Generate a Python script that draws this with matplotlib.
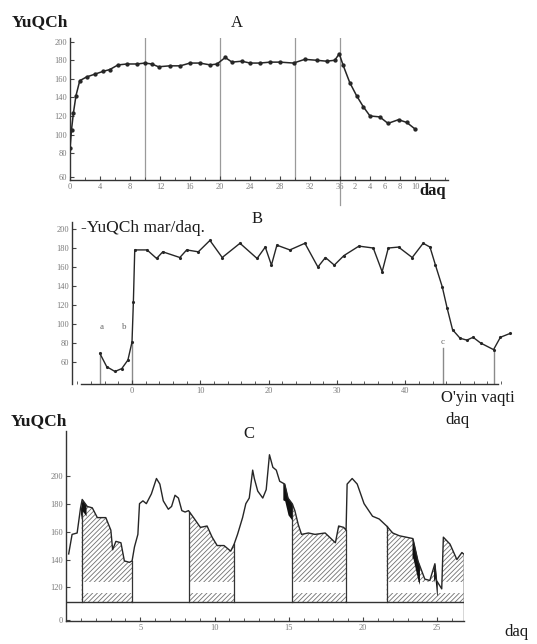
import numpy as np
import matplotlib.pyplot as plt
from matplotlib.ticker import MultipleLocator

plt.rcParams['font.family'] = ['Liberation Serif', 'DejaVu Serif']
plt.rcParams['hatch.linewidth'] = 0.6
plt.rcParams['hatch.color'] = '#707070'

# ---- data -------------------------------------------------------------
# A: heart rate during a steady load (0..36 min) and 10 min of recovery
a_time = [0, 0.2, 0.45, 0.8, 1.3, 2.2, 3.3, 4.4, 5.3, 6.4, 7.6, 8.9, 10, 10.9,
          11.8, 13.3, 14.7, 16, 17.3, 18.7, 19.6, 20.7, 21.6, 22.9, 24, 25.3,
          26.7, 28, 29.8, 31.3, 32.9, 34.2, 35.3, 35.9, 36.4, 37.3, 38.2, 39.1,
          40, 41.3, 42.4, 43.8, 44.9, 46]
a_hr = [85, 105, 123, 142, 158, 162, 165, 168, 170, 175, 176, 176, 177, 176,
        173, 174, 174, 177, 177, 175, 176, 183, 178, 179, 177, 177,
        178, 178, 177, 181, 180, 179, 180, 187, 175, 156, 142, 130,
        120, 119, 112, 116, 113, 106]
a_marks = [10, 20, 30, 36]
a_ticks = [0, 4, 8, 12, 16, 20, 24, 28, 32, 36, 38, 40, 42, 44, 46]
a_ticklabels = ['0', '4', '8', '12', '16', '20', '24', '28', '32', '36',
                '2', '4', '6', '8', '10']
a_yticks = [54.5, 80, 100, 120, 140, 160, 180, 200]
a_yticklabels = ['60', '80', '100', '120', '140', '160', '180', '200']

# B: heart rate during a game
b_time = [-4.7, -3.7, -2.5, -1.5, -0.6, 0, 0.2, 0.4, 2.2, 3.6, 4.5, 7.0, 8.0,
          9.7, 11.4, 13.2, 15.8, 18.3, 19.5, 20.4, 21.2, 23.1, 25.3, 27.2,
          28.3, 29.6, 31.0, 33.2, 35.3, 36.6, 37.5, 39.0, 41.0, 42.6, 43.6,
          44.4, 45.4, 46.1, 46.9, 48.0, 49.0, 49.9, 51.0, 52.9, 53.9, 55.3]
b_hr = [69, 55, 50, 53, 62, 81, 123, 178, 178, 169, 176, 170, 178,
        176, 188, 170, 185, 169, 181, 162, 183, 178, 185, 160,
        170, 162, 172, 182, 180, 155, 180, 181, 170, 185, 181,
        162, 139, 117, 94, 85, 83, 86, 80, 73, 86, 90]
b_marks = [-4.7, 0, 45.5, 52.9]
b_mark_labels = ['a', 'b', 'c', '']
b_ticks = [0, 10, 20, 30, 40]
b_yticks = [60, 80, 100, 120, 140, 160, 180, 200]

# C: heart rate with play / rest periods
c_time = [0.18, 0.41, 0.75, 0.98, 1.09, 1.43, 1.77, 2.11, 2.68, 3.02, 3.14,
          3.36, 3.70, 3.93, 4.27, 4.45, 4.61, 4.84, 4.95, 5.18, 5.41, 5.75,
          6.09, 6.32, 6.55, 6.89, 7.11, 7.34, 7.57, 7.80, 8.02, 8.25, 8.59,
          9.05, 9.50, 9.84, 10.18, 10.64, 11.09, 11.32, 11.55, 11.89, 12.11,
          12.34, 12.57, 12.68, 12.91, 13.25, 13.48, 13.70, 13.93, 14.16, 14.39,
          14.73, 14.95, 15.23, 15.41, 15.64, 15.86, 16.32, 16.77, 17.45, 18.14,
          18.36, 18.70, 18.86, 18.93, 19.27, 19.61, 20.07, 20.64, 21.09, 21.59,
          22.0, 22.45, 22.91, 23.36, 23.70, 24.16, 24.50, 24.84, 24.95, 25.30,
          25.41, 25.86, 26.32, 26.66, 26.77]
c_hr = [144, 158, 159, 177, 183, 178, 177, 170, 170, 161, 147,
        153, 152, 139, 138, 139, 149, 158, 180, 182, 180, 187,
        198, 194, 182, 176, 178, 186, 184, 175, 174, 175, 170,
        163, 164, 156, 150, 150, 146, 151, 158, 170, 180,
        184, 204, 198, 189, 184, 190, 215, 206, 204, 196,
        194, 184, 180, 175, 165, 158, 159, 158, 159, 152,
        164, 163, 161, 194, 198, 194, 180, 171, 169, 164,
        159, 157, 156, 155, 139, 126, 125, 137, 125, 119,
        156, 151, 140, 145, 144]
c_play = [(1.05, 4.45), (8.3, 11.32), (15.23, 18.86), (21.59, 26.77)]
c_dark = [(0.98, 1.35, 8), (14.6, 15.2, 12), (23.3, 23.8, 14), (24.75, 25.0, 10)]
c_ticks = [5, 10, 15, 20, 25]
c_yticks = [96.5, 120, 140, 160, 180, 200]
c_yticklabels = ['0', '120', '140', '160', '180', '200']
c_base = 109.3
c_band = (116.4, 123.6)

# ---- layout helpers --------------------------------------------------
W, H = 537, 644
INK = '#262626'


def box(x0, y0, x1, y1):
    return [x0 / W, 1 - y1 / H, (x1 - x0) / W, (y1 - y0) / H]


def label(fig, x, y, s, size=12, weight='normal'):
    fig.text(x / W, 1 - y / H, s, ha='center', va='center', fontsize=size,
             fontweight=weight, color='#1a1a1a')


def style(ax):
    for side in ('top', 'right'):
        ax.spines[side].set_visible(False)
    for side in ('left', 'bottom'):
        ax.spines[side].set_color('#333333')
        ax.spines[side].set_linewidth(1.0)
    ax.tick_params(which='both', direction='in', color='#444444', labelcolor='#7a7a7a',
                   labelsize=6, pad=2)
    ax.tick_params(which='major', length=3)
    ax.tick_params(which='minor', length=2)
    ax.set_facecolor('none')


fig = plt.figure(figsize=(W / 100, H / 100), dpi=100)

# ---- A -----------------------------------------------------------------
axA = fig.add_axes(box(70, 38, 448, 180))
style(axA)
axA.set_xlim(0, 50.4)
axA.set_ylim(51, 204)
for m in a_marks:
    axA.axvline(m, color='#9a9a9a', lw=0.9, zorder=1)
axA.plot([36, 36], [51, 24], color='#9a9a9a', lw=0.9, clip_on=False)
axA.plot(a_time, a_hr, color=INK, lw=1.1, marker='o', ms=2.1, zorder=3)
axA.set_xticks(a_ticks)
axA.set_xticklabels(a_ticklabels)
axA.xaxis.set_minor_locator(MultipleLocator(2))
axA.set_yticks(a_yticks)
axA.set_yticklabels(a_yticklabels)
label(fig, 40, 22, 'YuQCh', 12.5, 'bold')
label(fig, 237, 23, 'A', 12)
label(fig, 433, 191, 'daq', 12, 'bold')

# ---- B -----------------------------------------------------------------
axB = fig.add_axes(box(72, 222, 512, 384))
style(axB)
axB.set_xlim(-8.78, 55.6)
axB.set_ylim(36.8, 207.4)
axB.spines['bottom'].set_bounds(-7.5, 53.5)
for m, s in zip(b_marks, b_mark_labels):
    top = np.interp(m, b_time, b_hr)
    if s == 'c':
        top = 75
    axB.plot([m, m], [36.8, top], color='#8a8a8a', lw=1.0, zorder=1)
    if s:
        axB.text(m + (0.3 if s == 'a' else -1.2 if s == 'b' else 0),
                 97 if s != 'c' else 81, s, fontsize=6.5, color='#666666',
                 ha='center', va='center')
axB.plot(b_time, b_hr, color=INK, lw=1.0, marker='.', ms=2.5, zorder=3)
axB.set_xticks(b_ticks)
axB.xaxis.set_minor_locator(MultipleLocator(2))
axB.set_yticks(b_yticks)
label(fig, 143, 228, '-YuQCh mar/daq.', 12.5)
label(fig, 257, 219, 'B', 12)
label(fig, 478, 398, "O'yin vaqti", 12)
label(fig, 457, 420, 'daq', 12)

# ---- C -----------------------------------------------------------------
axC = fig.add_axes(box(66, 431, 464, 621))
style(axC)
axC.set_xlim(0, 26.8)
axC.set_ylim(96, 232)
ct = np.array(c_time)
cv = np.array(c_hr)
for a, b in c_play:
    tt = np.concatenate([[a], ct[(ct > a) & (ct < b)], [b]])
    vv = np.interp(tt, ct, cv)
    axC.fill_between(tt, c_base, vv, facecolor='white', hatch='///////',
                     edgecolor='#707070', linewidth=0, zorder=1)
    axC.fill_between(tt, c_band[0], c_band[1], facecolor='white', lw=0, zorder=2)
    for edge in (a, b):
        axC.plot([edge, edge], [c_base, np.interp(edge, ct, cv)],
                 color='#333333', lw=0.9, zorder=3)
for a, b, depth in c_dark:
    tt = np.concatenate([[a], ct[(ct > a) & (ct < b)], [b]])
    vv = np.interp(tt, ct, cv)
    axC.fill_between(tt, vv - depth, vv, color='#111111', lw=0, zorder=3)
axC.axhline(c_base, color='#333333', lw=1.0, zorder=3)
axC.plot([c_time[-1], c_time[-1]], [96, c_hr[-1]], color='#333333', lw=1.0, zorder=3)
axC.plot(c_time, c_hr, color=INK, lw=1.0, zorder=4)
axC.set_xticks(c_ticks)
axC.xaxis.set_minor_locator(MultipleLocator(1))
axC.set_yticks(c_yticks)
axC.set_yticklabels(c_yticklabels)
label(fig, 39, 421, 'YuQCh', 12.5, 'bold')
label(fig, 249, 434, 'C', 12)
label(fig, 516, 632, 'daq', 12)

fig.savefig('out.png', dpi=100)
